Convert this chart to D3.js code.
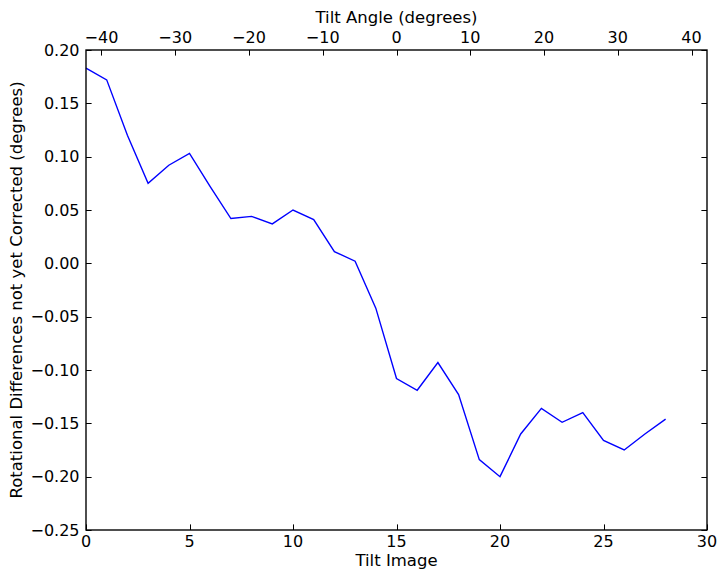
<!DOCTYPE html>
<html>
<head>
<meta charset="utf-8">
<script src="https://cdn.jsdelivr.net/npm/d3@7"></script>
<style>
  html, body { margin: 0; padding: 0; background: #fff; }
  svg { display: block; }
  text { font-family: "DejaVu Sans", sans-serif; fill: #000; }
</style>
</head>
<body>
<svg id="chart" width="725" height="579"></svg>
<script>
// ---- data ----
const tiltImages = d3.range(0, 29);
const rotationDiff = [
  0.183, 0.172, 0.120, 0.075, 0.092, 0.103, 0.072, 0.042, 0.044, 0.037,
  0.050, 0.041, 0.011, 0.002, -0.042, -0.108, -0.119, -0.093, -0.123, -0.184,
  -0.200, -0.160, -0.136, -0.149, -0.140, -0.166, -0.175, -0.160, -0.146
];
const xTicks = [0, 5, 10, 15, 20, 25, 30];
const yTicks = [-0.25, -0.20, -0.15, -0.10, -0.05, 0.00, 0.05, 0.10, 0.15, 0.20];
const angleTicks = [-40, -30, -20, -10, 0, 10, 20, 30, 40];
const xDomain = [0, 30];
const yDomain = [-0.25, 0.20];
const angleDomain = [-42.1, 42.1];
const labels = {
  x: "Tilt Image",
  y: "Rotational Differences not yet Corrected (degrees)",
  top: "Tilt Angle (degrees)"
};

// ---- layout ----
const L = 86, R = 707, T = 50, B = 530;
const FS = 16.5, TFS = 16;
const svg = d3.select("#chart");

const x = d3.scaleLinear().domain(xDomain).range([L, R]);
const y = d3.scaleLinear().domain(yDomain).range([B, T]);
const xa = d3.scaleLinear().domain(angleDomain).range([L, R]);

// line
const line = d3.line().x((d, i) => x(tiltImages[i])).y(d => y(d));
svg.append("path")
  .datum(rotationDiff)
  .attr("d", line)
  .attr("fill", "none")
  .attr("stroke", "#0000ff")
  .attr("stroke-width", 1.39)
  .attr("stroke-linejoin", "miter");

// ticks (inward, classic style)
const tk = 5.6;
const g = svg.append("g").attr("stroke", "#000").attr("stroke-width", 1);
xTicks.forEach(v => {
  const px = Math.round(x(v)) + 0.5;
  g.append("line").attr("x1", px).attr("x2", px).attr("y1", B).attr("y2", B - tk);
});
angleTicks.forEach(v => {
  const px = Math.round(xa(v)) + 0.5;
  g.append("line").attr("x1", px).attr("x2", px).attr("y1", T).attr("y2", T + tk);
});
yTicks.forEach(v => {
  const py = Math.round(y(v)) + 0.5;
  g.append("line").attr("x1", L).attr("x2", L + tk).attr("y1", py).attr("y2", py);
  g.append("line").attr("x1", R).attr("x2", R - tk).attr("y1", py).attr("y2", py);
});

// frame
svg.append("rect")
  .attr("x", L).attr("y", T).attr("width", R - L).attr("height", B - T)
  .attr("fill", "none").attr("stroke", "#000").attr("stroke-width", 1.39);

const fmtMinus = s => s.replace("-", "\u2212");

// tick labels
svg.append("g").selectAll("text").data(xTicks).join("text")
  .attr("x", d => x(d)).attr("y", 547)
  .attr("text-anchor", "middle").attr("font-size", TFS)
  .text(d => d);
svg.append("g").selectAll("text").data(angleTicks).join("text")
  .attr("x", d => xa(d)).attr("y", 42.5)
  .attr("text-anchor", "middle").attr("font-size", TFS)
  .text(d => fmtMinus(String(d)));
svg.append("g").selectAll("text").data(yTicks).join("text")
  .attr("x", 79.5).attr("y", d => y(d) + 5.8)
  .attr("text-anchor", "end").attr("font-size", TFS)
  .text(d => fmtMinus(d3.format(".2f")(d)));

// axis labels
svg.append("text").attr("x", (L + R) / 2).attr("y", 565.5)
  .attr("text-anchor", "middle").attr("font-size", FS).text(labels.x);
svg.append("text").attr("x", (L + R) / 2).attr("y", 22.5)
  .attr("text-anchor", "middle").attr("font-size", FS).text(labels.top);
svg.append("text")
  .attr("transform", `translate(22,${(T + B) / 2}) rotate(-90)`)
  .attr("text-anchor", "middle").attr("font-size", FS).text(labels.y);
</script>
</body>
</html>
